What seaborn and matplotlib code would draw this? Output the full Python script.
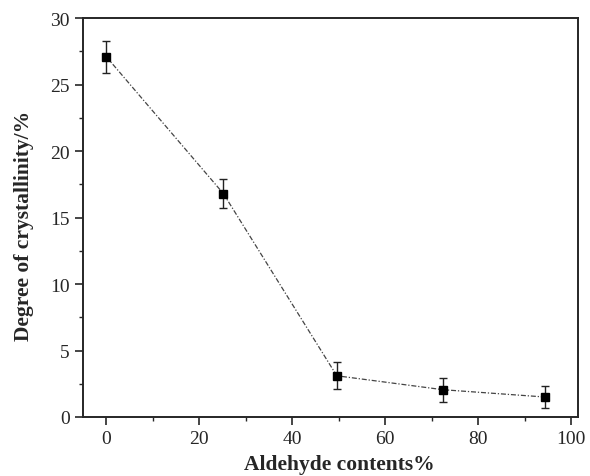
import matplotlib
matplotlib.use("Agg")
import matplotlib.pyplot as plt
from matplotlib.ticker import MultipleLocator
import seaborn as sns
import pandas as pd

aldehyde = [0, 25.2, 49.6, 72.5, 94.5]
crystallinity = [27.1, 16.8, 3.1, 2.05, 1.5]
error = [1.2, 1.1, 1.0, 0.9, 0.8]

sns.set_style("ticks")
plt.rcParams['font.family'] = ['Liberation Serif', 'DejaVu Serif']

fig = plt.figure(figsize=(5.9, 4.77), dpi=100)
ax = fig.add_axes([0.1407, 0.1237, 0.8390, 0.8363])

df = pd.DataFrame({"x": aldehyde, "y": crystallinity})
sns.lineplot(data=df, x="x", y="y", ax=ax, color="#444444", linewidth=0.9,
             linestyle=(0, (4, 1.5, 1, 1.5)), marker=None)
ax.errorbar(aldehyde, crystallinity, yerr=error, fmt="s", color="black",
            markersize=6, ecolor="#222222", elinewidth=1.0, capsize=3,
            capthick=1.0, zorder=3)

ax.set_xlim(-5, 101.5)
ax.set_ylim(0, 30)
ax.xaxis.set_major_locator(MultipleLocator(20))
ax.xaxis.set_minor_locator(MultipleLocator(10))
ax.yaxis.set_major_locator(MultipleLocator(5))
ax.yaxis.set_minor_locator(MultipleLocator(2.5))
ax.tick_params(which="major", direction="out", length=5.5, width=1.2, labelsize=14, pad=4)
ax.tick_params(which="minor", direction="out", length=3, width=1.0)
for s in ax.spines.values():
    s.set_linewidth(1.4)
ax.set_xlabel("Aldehyde contents%", fontsize=15.5, fontweight="bold")
ax.xaxis.set_label_coords(0.517, -0.093)
ax.set_ylabel("Degree of crystallinity/%", fontsize=15.5, fontweight="bold")
ax.yaxis.set_label_coords(-0.1, 0.482)

fig.savefig("out.png", dpi=100)
